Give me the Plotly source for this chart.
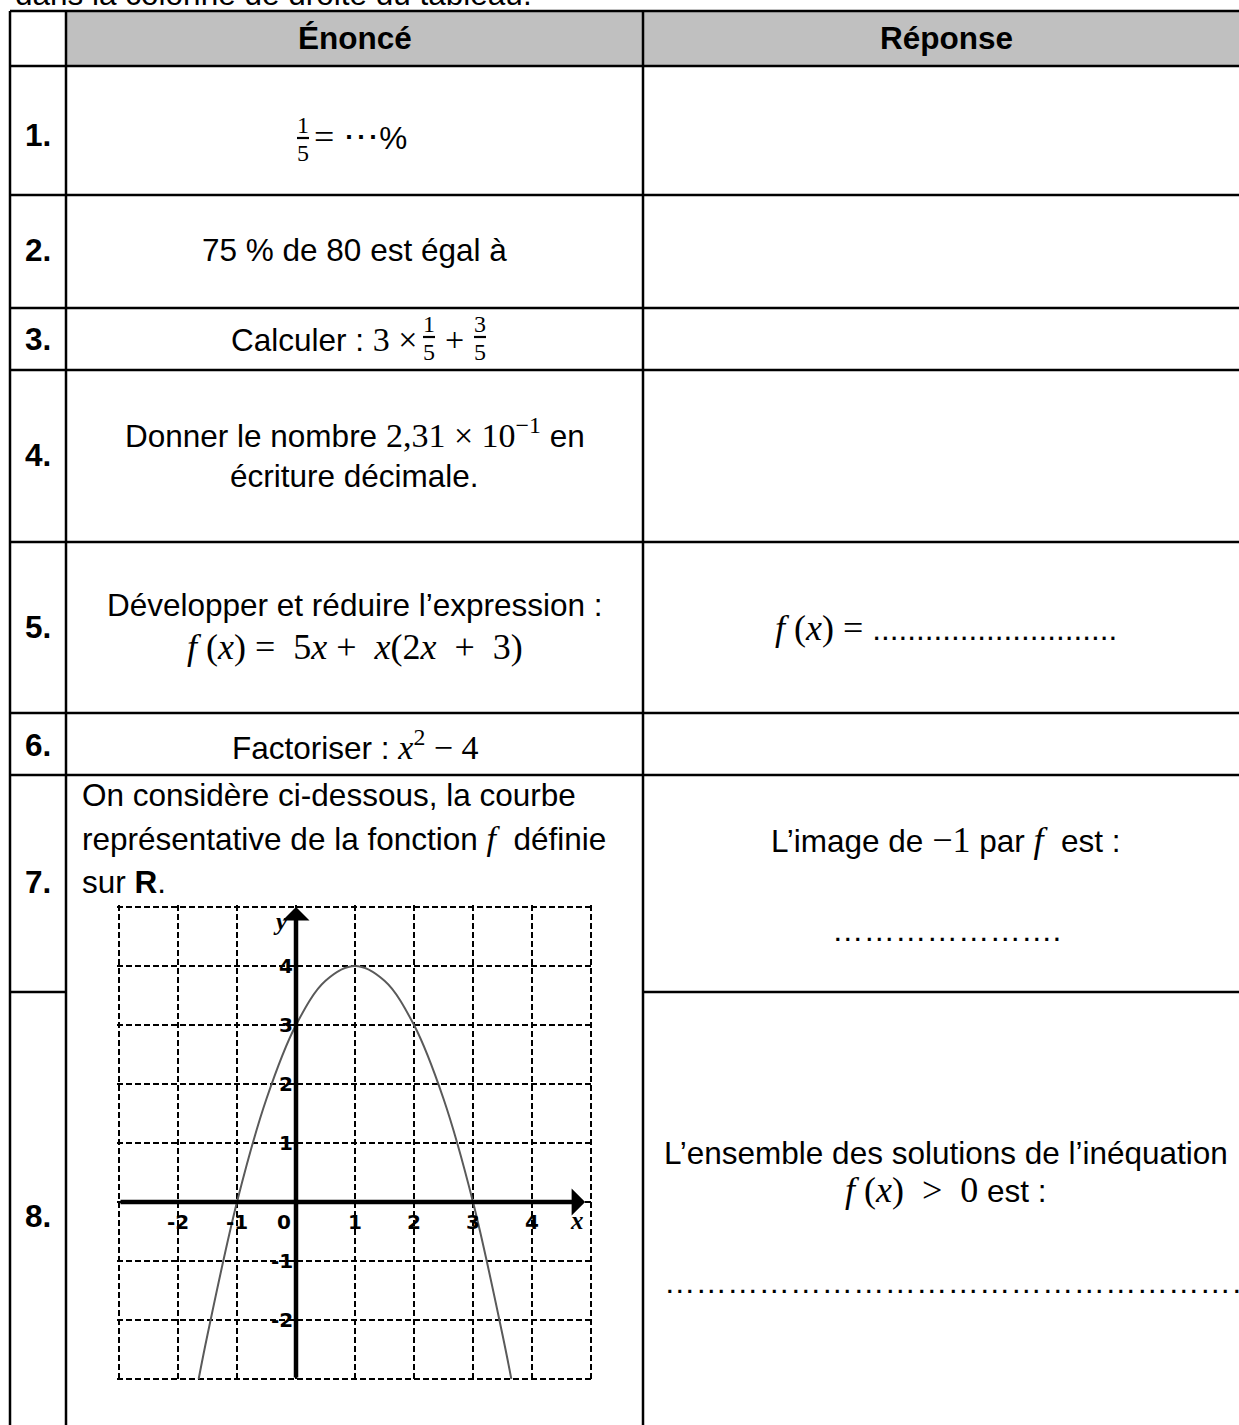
import plotly.graph_objects as go

W, H = 1239, 1425

# ---- content of the worksheet ----
headers = ["Énoncé", "Réponse"]
numbers = ["1.", "2.", "3.", "4.", "5.", "6.", "7.", "8."]

curve_x = [-1.65, -1.5, -1.0, -0.5, 0.0, 0.5, 1.0, 1.5, 2.0, 2.5, 3.0, 3.5, 3.65]
curve_y = [-3.0, -2.25, 0.0, 1.75, 3.0, 3.75, 4.0, 3.75, 3.0, 1.75, 0.0, -2.25, -3.0]

x_tick_labels = ["-2", "-1", "0", "1", "2", "3", "4"]
y_tick_labels = ["4", "3", "2", "1", "-1", "-2"]

SANS = "Liberation Sans, Arial, sans-serif"
SERIF = "Liberation Serif, DejaVu Serif, serif"
BODY = 31.5


def px(x):
    return x / W


def py(y):
    return 1 - y / H


def m(s, size=34):
    # math-styled piece of text
    return f"<span style='font-family:{SERIF};font-size:{size}px'>{s}</span>"


ann = []
shapes = []


def text(x, y, s, size=BODY, anchor="center", bold=False, family=SANS):
    ann.append(dict(xref="paper", yref="paper", x=px(x), y=py(y), text=s,
                    showarrow=False, xanchor=anchor, yanchor="middle",
                    font=dict(family=family, size=size, color="black",
                              weight="bold" if bold else "normal")))


def seg(x0, y0, x1, y1, w=2.5):
    shapes.append(dict(type="line", xref="paper", yref="paper",
                       x0=px(x0), x1=px(x1), y0=py(y0), y1=py(y1),
                       line=dict(color="black", width=w)))


def frac(num, den, cx, cy):
    text(cx, cy - 13, num, size=24, family=SERIF)
    text(cx, cy + 15, den, size=24, family=SERIF)
    seg(cx - 6, cy, cx + 6, cy, w=2.2)


# ---- table frame ----
L, C1, C2, R = 10, 66, 643, 1249
rows = [11, 66, 195, 308, 370, 542, 713, 775]
shapes.append(dict(type="rect", xref="paper", yref="paper", layer="below",
                   x0=px(C1), x1=px(R), y0=py(11), y1=py(66),
                   fillcolor="#C0C0C0", line=dict(width=0)))
for y in rows:
    seg(L, y, R, y)
seg(L, 992, C1, 992)
seg(C2, 992, R, 992)
for x in [L, C1, C2]:
    seg(x, 11, x, H + 5)

# ---- text ----
text(13, -6, "dans la colonne de droite du tableau.", anchor="left")
text((C1 + C2) / 2, 38, headers[0], bold=True)
text((C2 + R) / 2, 38, headers[1], bold=True)

num_y = [135, 250, 339, 455, 627, 745, 882, 1216]
for n, y in zip(numbers, num_y):
    text(38, y, n, bold=True)

mid = (C1 + C2) / 2
right = (C2 + R) / 2

# 1
frac("1", "5", 303, 138)
text(312, 137, m("= ⋯", 36) + "%", anchor="left")
# 2
text(mid, 250, "75 % de 80 est égal à")
# 3
text(419, 339, "Calculer : " + m("3 ×"), anchor="right")
frac("1", "5", 429, 337)
text(454, 339, m("+"))
frac("3", "5", 480, 337)
# 4
text(mid, 433, "Donner le nombre " + m("2,31 × 10<sup>−1</sup>") + " en")
text(mid, 476, "écriture décimale.")
# 5
text(mid, 605, "Développer et réduire l’expression :")
text(mid, 647, m("<i>f</i> (<i>x</i>) =  5<i>x</i> +  <i>x</i>(2<i>x</i>  +  3)", 36))
text(right, 628, m("<i>f</i> (<i>x</i>) = ", 36) + "............................")
# 6
text(mid, 745, "Factoriser : " + m("<i>x</i><sup>2</sup> − 4"))
# 7
text(80, 795, "On considère ci-dessous, la courbe", anchor="left")
text(80, 838, "représentative de la fonction " + m("<i>f</i>") + "  définie", anchor="left")
text(80, 882, "sur <b>R</b>.", anchor="left")
text(right, 840, "L’image de " + m("−1", 36) + " par " + m("<i>f</i>", 36) + "  est :")
text(right, 930, "…" * 7 + ".")
# 8
text(right, 1153, "L’ensemble des solutions de l’inéquation")
text(right, 1190, m("<i>f</i> (<i>x</i>)  &gt;  0", 36) + " est :")
text(662, 1282, "…" * 19, anchor="left")

# ---- graph of f ----
X0, X1 = -3, 5
gx0, gx1, gtop, gbot = 119, 591, 907, 1379
unit = (gx1 - gx0) / (X1 - X0)
pad = 0.03

fig = go.Figure()
fig.add_trace(go.Scatter(x=curve_x, y=curve_y, mode="lines",
                         line=dict(color="#5a5a5a", width=2, shape="spline"),
                         hoverinfo="skip"))

grid = dict(range=[X0 - pad, X1 + pad], tick0=X0, dtick=1, showgrid=True,
            gridcolor="black", gridwidth=1.5, griddash="6px,3px",
            zeroline=False, showline=False, showticklabels=False, ticks="",
            fixedrange=True)
fig.update_xaxes(domain=[px(gx0 - pad * unit), px(gx1 + pad * unit)], **grid)
fig.update_yaxes(domain=[py(gbot + pad * unit), py(gtop - pad * unit)], **grid)

# axes with arrows
ann.append(dict(xref="x", yref="y", axref="x", ayref="y", x=4.9, y=0, ax=-3, ay=0,
                text="", showarrow=True, arrowhead=1, arrowwidth=4.5,
                arrowsize=1.0, arrowcolor="black"))
ann.append(dict(xref="x", yref="y", axref="x", ayref="y", x=0, y=5, ax=0, ay=-3,
                text="", showarrow=True, arrowhead=1, arrowwidth=4.5,
                arrowsize=1.0, arrowcolor="black"))

tick_font = dict(family="DejaVu Sans, sans-serif", size=20, color="black",
                 weight="bold")
for lab in x_tick_labels:
    v = int(lab)
    ann.append(dict(xref="x", yref="y", x=v, y=0, text=lab, showarrow=False,
                    xanchor="center", yanchor="middle", yshift=-20,
                    xshift=-12 if v == 0 else 0, font=tick_font))
for lab in y_tick_labels:
    ann.append(dict(xref="x", yref="y", x=0, y=int(lab), text=lab, showarrow=False,
                    xanchor="right", yanchor="middle", xshift=-1, font=tick_font))

axis_font = dict(family=SERIF, size=25, color="black", weight="bold")
ann.append(dict(xref="x", yref="y", x=0, y=5, text="<i>y</i>", showarrow=False,
                xshift=-16, yshift=-15, font=axis_font))
ann.append(dict(xref="x", yref="y", x=5, y=0, text="<i>x</i>", showarrow=False,
                xshift=-14, yshift=-18, font=axis_font))

fig.update_layout(width=W, height=H, margin=dict(l=0, r=0, t=0, b=0),
                  paper_bgcolor="white", plot_bgcolor="white",
                  showlegend=False, annotations=ann, shapes=shapes)

fig.write_html("out.html", config={"displayModeBar": False},
               post_script="document.body.style.margin='0';")
